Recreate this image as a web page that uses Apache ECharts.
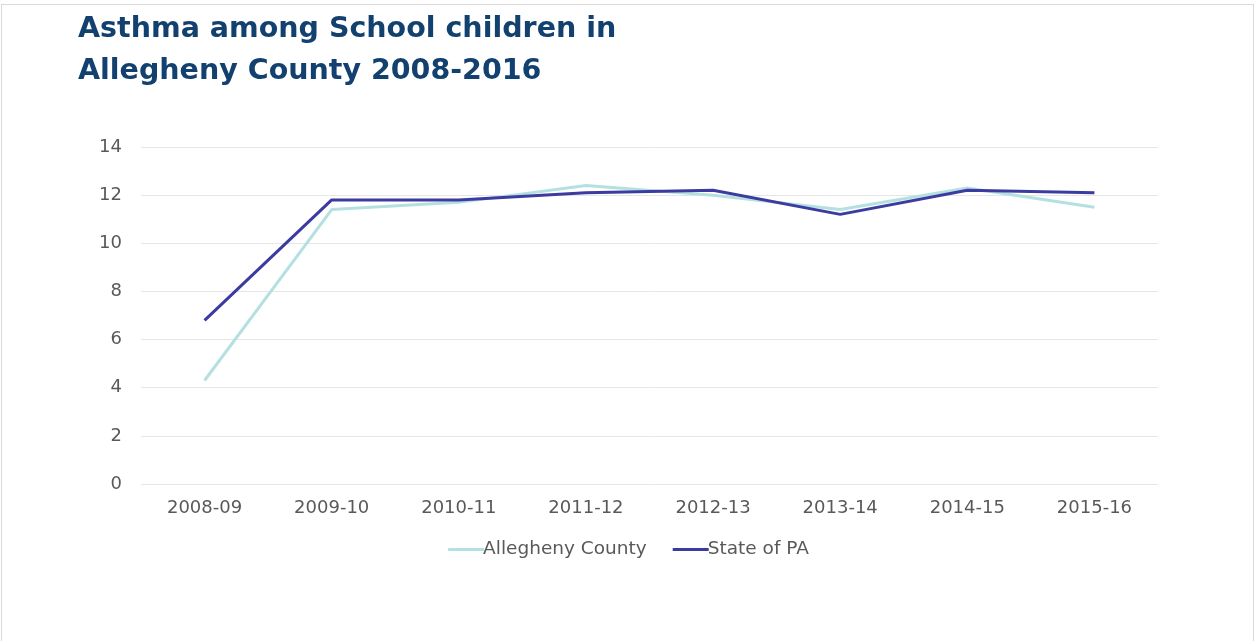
<!DOCTYPE html>
<html>
<head>
<meta charset="utf-8">
<script src="https://cdn.jsdelivr.net/npm/echarts@6/dist/echarts.min.js"></script>
<style>
html,body{margin:0;padding:0;background:#fff;}
#frame{position:absolute;left:1px;top:4px;width:1253px;height:640px;border:1px solid #d9d9d9;border-bottom:none;box-sizing:border-box;}
#chart{position:absolute;left:0;top:0;width:1257px;height:641px;}
</style>
</head>
<body>
<div id="frame"></div>
<div id="chart"></div>
<script>
const categories = ['2008-09','2009-10','2010-11','2011-12','2012-13','2013-14','2014-15','2015-16'];
const allegheny = [4.3, 11.4, 11.7, 12.4, 12.0, 11.4, 12.3, 11.5];
const statePA = [6.8, 11.8, 11.8, 12.1, 12.2, 11.2, 12.2, 12.1];
const yTicks = [0, 2, 4, 6, 8, 10, 12, 14];

const chart = echarts.init(document.getElementById('chart'));
chart.setOption({
  animation: false,
  title: {
    text: 'Asthma among School children in\nAllegheny County 2008-2016',
    left: 73, top: 4,
    textStyle: {fontFamily: 'DejaVu Sans', fontSize: 28.5, fontWeight: 'bold', color: '#124170', lineHeight: 42}
  },
  grid: {left: 141, right: 99, top: 147, bottom: 157},
  legend: {
    top: 535, left: 'center',
    itemWidth: 36, itemHeight: 3, itemGap: 26,
    icon: 'rect',
    textStyle: {fontFamily: 'DejaVu Sans', fontSize: 18.5, color: '#595959', padding: [0,0,0,-6]},
    data: ['Allegheny County', 'State of PA']
  },
  xAxis: {
    type: 'category', data: categories, boundaryGap: true,
    axisLine: {show: false}, axisTick: {show: false},
    axisLabel: {fontFamily: 'DejaVu Sans', fontSize: 18, color: '#595959', margin: 15}
  },
  yAxis: {
    type: 'value', min: 0, max: 14, interval: 2,
    axisLine: {show: false}, axisTick: {show: false},
    axisLabel: {fontFamily: 'DejaVu Sans', fontSize: 18, color: '#595959', margin: 19,
      formatter: v => yTicks.includes(v) ? String(v) : ''},
    splitLine: {lineStyle: {color: '#e6e6e6', width: 1}}
  },
  series: [
    {name: 'Allegheny County', type: 'line', data: allegheny, symbol: 'none',
     lineStyle: {color: '#b5e0e2', width: 3}, itemStyle: {color: '#b5e0e2'}},
    {name: 'State of PA', type: 'line', data: statePA, symbol: 'none',
     lineStyle: {color: '#3c3ba0', width: 3}, itemStyle: {color: '#3c3ba0'}}
  ]
});
</script>
</body>
</html>
